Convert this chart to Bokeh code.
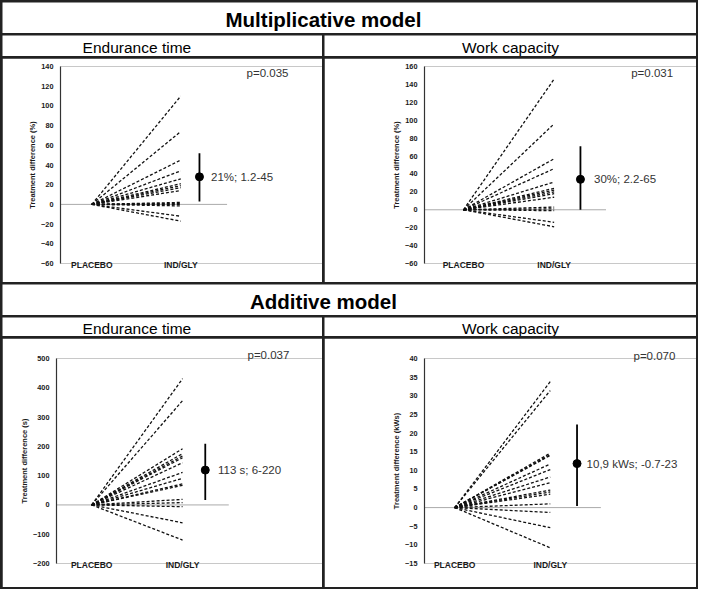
from bokeh.plotting import figure
from bokeh.layouts import row, column
from bokeh.models import Range1d, FixedTicker, Label, Spacer
from bokeh.embed import file_html
from bokeh.resources import INLINE

FONT = "Liberation Sans"
categories = ["PLACEBO", "IND/GLY"]

# ---- data ----
mult_end_values = [110, 74, 45, 34, 26, 21, 19, 17, 14, 2, 1, 0, -1.5, -12, -17]
mult_end_est, mult_end_lo, mult_end_hi = 28, 3, 52
mult_end_ticks = [-60, -40, -20, 0, 20, 40, 60, 80, 100, 120, 140]

mult_work_values = [146, 96, 57, 46, 31, 24, 22, 20, 18, 14, 3, 1, -1, -14, -19]
mult_work_est, mult_work_lo, mult_work_hi = 34, 0, 71
mult_work_ticks = [-60, -40, -20, 0, 20, 40, 60, 80, 100, 120, 140, 160]

add_end_values = [431, 356, 192, 175, 167, 161, 144, 111, 91, 72, 67, 19, 8, -6, -61, -120]
add_end_est, add_end_lo, add_end_hi = 119, 17, 209
add_end_ticks = [-200, -100, 0, 100, 200, 300, 400, 500]

add_work_values = [33.8, 31.4, 14.6, 14.2, 14.0, 11.7, 10.2, 8.2, 6.7, 4.7, 4.2, 3.6, 1.0, -1.3, -5.4, -10.8]
add_work_est, add_work_lo, add_work_hi = 11.8, 0.4, 22.3
add_work_ticks = [-15, -10, -5, 0, 5, 10, 15, 20, 25, 30, 35, 40]

TXT = "#1a1a1a"


def chart(width, height, values, est, lo, hi, ticks, ylabel, ci_text, p_text, g):
    p = figure(width=width, height=height, output_backend="svg", toolbar_location=None,
               x_range=Range1d(g["xs"], g["xe"]), y_range=Range1d(ticks[0], ticks[-1]),
               min_border_left=g["bl"], min_border_right=0, min_border_top=g["bt"],
               min_border_bottom=g["bb"])
    p.outline_line_color = None
    p.background_fill_color = "white"
    p.border_fill_color = "white"
    p.xgrid.visible = False
    p.ygrid.visible = False

    xa = p.xaxis[0]
    xa.ticker = FixedTicker(ticks=list(range(len(categories))))
    xa.major_label_overrides = {i: c for i, c in enumerate(categories)}
    xa.axis_line_color = None
    xa.major_tick_line_color = None
    xa.minor_tick_line_color = None
    xa.major_tick_out = 0
    xa.major_tick_in = 0
    xa.minor_tick_out = 0
    xa.major_label_text_font = FONT
    xa.major_label_text_font_style = "bold"
    xa.major_label_text_font_size = "8.5px"
    xa.major_label_text_color = TXT
    xa.major_label_standoff = -4

    ya = p.yaxis[0]
    ya.ticker = FixedTicker(ticks=ticks)
    ya.axis_line_color = "#333333"
    ya.axis_line_width = 1.2
    ya.major_tick_line_color = None
    ya.minor_tick_line_color = None
    ya.major_tick_out = 0
    ya.major_tick_in = 0
    ya.minor_tick_out = 0
    ya.major_label_text_font = FONT
    ya.major_label_text_font_style = "bold"
    ya.major_label_text_font_size = "7.3px"
    ya.major_label_text_color = TXT
    ya.major_label_standoff = 7
    ya.axis_label = ylabel
    ya.axis_label_text_font = FONT
    ya.axis_label_text_font_style = "bold"
    ya.axis_label_text_font_size = "7.5px"
    ya.axis_label_text_color = TXT
    ya.axis_label_standoff = 1

    x0 = categories.index("PLACEBO")
    x1 = categories.index("IND/GLY")
    n = len(values)
    # zero reference line
    p.segment(x0=[g["xs"]], y0=[0], x1=[g["ze"]], y1=[0], line_color="#555555",
              line_width=1, line_dash="1 1")
    # individual patients
    p.segment(x0=[x0] * n, y0=[0] * n, x1=[x1] * n, y1=values, line_color="#111111",
              line_width=1.3, line_dash="3 2")
    # estimate and CI
    p.segment(x0=[g["eb"]], y0=[lo], x1=[g["eb"]], y1=[hi], line_color="black", line_width=1.8)
    p.scatter(x=[g["eb"]], y=[est], size=8, color="black")

    p.add_layout(Label(x=g["tx"], y=est, text=ci_text, text_font=FONT, text_font_size="11.5px",
                       text_color="#333333", text_baseline="middle", text_align="left"))
    if "py" in g:
        p.add_layout(Label(x=g["px"], y=g["py"], text=p_text, text_font=FONT,
                           text_font_size="11.5px", text_color="#333333",
                           text_baseline="middle", text_align="left"))
    else:
        # p-value sits above the plotting frame: use the figure title
        p.title.text = p_text
        p.title.align = "left"
        p.title.offset = g["poff"]
        p.title.standoff = g["pstand"]
        p.title.text_font = FONT
        p.title.text_font_size = "11.5px"
        p.title.text_font_style = "normal"
        p.title.text_color = "#333333"
    return p


def text_box(width, height, text, xf, size, bold):
    p = figure(width=width, height=height, output_backend="svg", toolbar_location=None,
               x_range=Range1d(0, 1), y_range=Range1d(0, 1), min_border=0,
               x_axis_location=None, y_axis_location=None)
    p.outline_line_color = None
    p.xgrid.visible = False
    p.ygrid.visible = False
    p.background_fill_color = "white"
    p.border_fill_color = "white"
    p.add_layout(Label(x=xf, y=0.44, text=text, text_font=FONT, text_font_size=size,
                       text_font_style="bold" if bold else "normal", text_color="black",
                       text_align="center", text_baseline="middle"))
    return p


WL, WR = 320, 372
W = WL + WR + 2

tl = chart(WL, 224, mult_end_values, mult_end_est, mult_end_lo, mult_end_hi, mult_end_ticks,
           "Treatment difference (%)", "21%; 1.2-45", "p=0.035",
           dict(xs=-0.352, xe=2.593, bl=58, bt=8, bb=19, eb=1.21, tx=1.34, ze=1.52, px=1.74, py=133))
tr = chart(WR, 224, mult_work_values, mult_work_est, mult_work_lo, mult_work_hi, mult_work_ticks,
           "Treatment difference (%)", "30%; 2.2-65", "p=0.031",
           dict(xs=-0.43, xe=2.57, bl=100, bt=8, bb=13, eb=1.29, tx=1.44, ze=1.57, px=1.85, py=153))
bl = chart(WL, 249, add_end_values, add_end_est, add_end_lo, add_end_hi, add_end_ticks,
           "Treatment difference (s)", "113 s; 6-220", "p=0.037",
           dict(xs=-0.387, xe=2.54, bl=54, bt=20, bb=24, eb=1.25, tx=1.39, ze=1.51,
                poff=191, pstand=-4))
br = chart(WR, 249, add_work_values, add_work_est, add_work_lo, add_work_hi, add_work_ticks,
           "Treatment difference (kWs)", "10,9 kWs; -0.7-23", "p=0.070",
           dict(xs=-0.316, xe=2.53, bl=100, bt=16, bb=18, eb=1.28, tx=1.38, ze=1.53,
                poff=209, pstand=-6))

title1 = text_box(W, 31, "Multiplicative model", 0.4625, "20.5px", True)
title2 = text_box(W, 31, "Additive model", 0.4625, "20.5px", True)
hdr1 = row(text_box(WL, 21, "Endurance time", 0.42, "15.5px", False),
           text_box(WR, 21, "Work capacity", 0.5, "15.5px", False), spacing=2)
hdr2 = row(text_box(WL, 19, "Endurance time", 0.42, "15.5px", False),
           text_box(WR, 19, "Work capacity", 0.5, "15.5px", False), spacing=2)

inner = column(Spacer(width=W, height=0), title1, hdr1, row(tl, tr, spacing=2),
               title2, hdr2, row(bl, br, spacing=2), Spacer(width=W, height=0), spacing=2)
root = row(Spacer(width=0, height=10), inner, Spacer(width=0, height=10), spacing=2,
           styles={"background-color": "#222222"})

open("out.html", "w").write(file_html(root, INLINE))
